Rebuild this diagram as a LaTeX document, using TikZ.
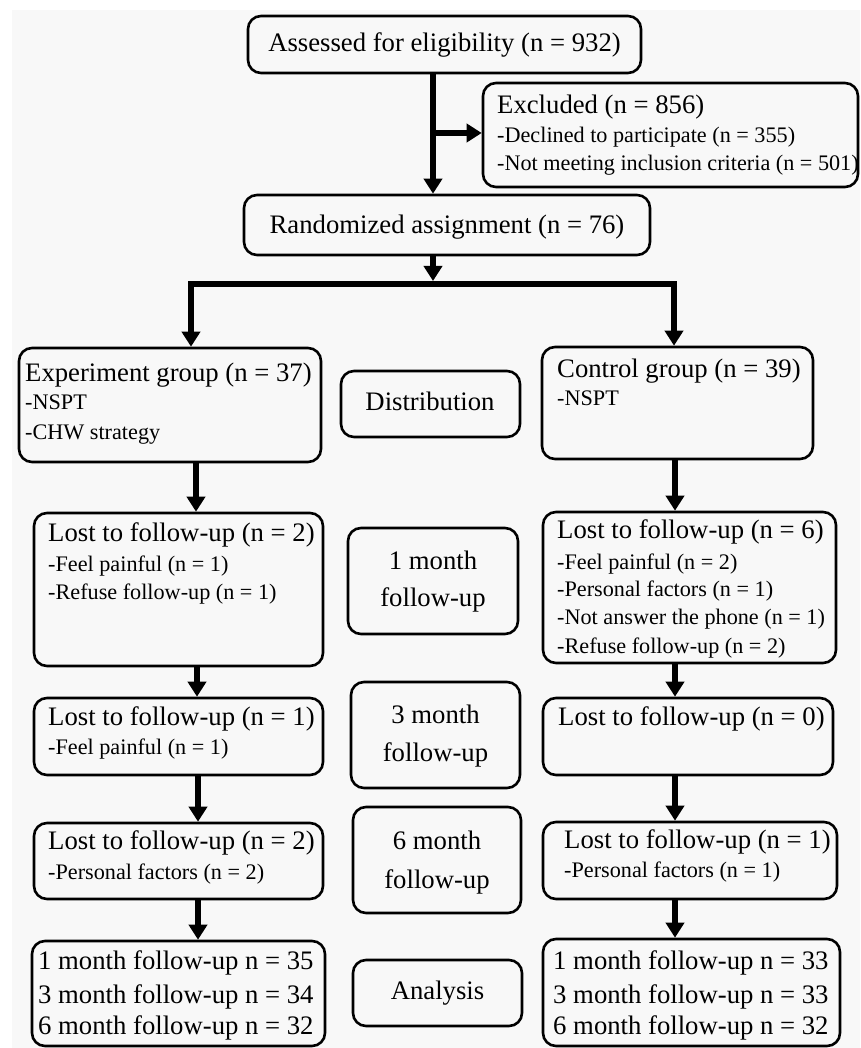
\documentclass[tikz,border=0pt]{standalone}
\usepackage{fontspec}
\setmainfont{Liberation Serif}
\usetikzlibrary{arrows.meta}
\definecolor{bg}{HTML}{F8F8F8}
\newcommand\mf{\fontsize{26.7}{30}\selectfont}
\newcommand\smf{\fontsize{22.2}{25}\selectfont}
\begin{document}
\begin{tikzpicture}[x=1pt,y=-1pt,
  box/.style={draw, line width=2.6pt, rounded corners=13pt, fill=bg, inner sep=0pt},
  tl/.style={inner sep=0pt, anchor=west, text height=0.72em, text depth=0.24em, yshift=-4.5pt},
  tc/.style={inner sep=0pt, anchor=center, text height=0.72em, text depth=0.24em, yshift=-4.5pt},
  arr/.style={line width=5.5pt, -{Triangle[width=18pt,length=15pt]}},
  bar/.style={line width=6pt}]
\useasboundingbox (0,0) rectangle (860,1048);
\fill[white] (0,0) rectangle (860,1048);
\fill[bg] (12,10) rectangle (860,1048);
% boxes
\node[box, minimum width=393pt, minimum height=57pt] (elig) at (444.5,44.5) {};
\node[box, minimum width=375pt, minimum height=104pt] (excl) at (670.5,135) {};
\node[box, minimum width=406pt, minimum height=60pt] (rand) at (447,225) {};
\node[box, minimum width=302pt, minimum height=114pt] (exp) at (170,405) {};
\node[box, minimum width=179pt, minimum height=66pt] (dist) at (430.5,404) {};
\node[box, minimum width=271pt, minimum height=112pt] (ctrl) at (677.5,403) {};
\node[box, minimum width=289pt, minimum height=153pt] (lostA) at (178.5,589.5) {};
\node[box, minimum width=170pt, minimum height=106pt] (mA) at (433,581) {};
\node[box, minimum width=293pt, minimum height=151pt] (lostB) at (689.5,587.5) {};
\node[box, minimum width=289pt, minimum height=77pt] (lostC) at (178.5,736.5) {};
\node[box, minimum width=169pt, minimum height=106pt] (mB) at (435.5,735) {};
\node[box, minimum width=290pt, minimum height=77pt] (lostD) at (688,736.5) {};
\node[box, minimum width=289pt, minimum height=76pt] (lostE) at (178.5,861) {};
\node[box, minimum width=168pt, minimum height=106pt] (mC) at (437,860) {};
\node[box, minimum width=294pt, minimum height=77pt] (lostF) at (690,860.5) {};
\node[box, minimum width=293pt, minimum height=105pt] (finL) at (178.5,993.5) {};
\node[box, minimum width=169pt, minimum height=66pt] (ana) at (437.5,993) {};
\node[box, minimum width=297pt, minimum height=107pt] (finR) at (691.5,992.5) {};
% texts
\node[tc,font=\mf] (t1) at (444.5,45) {Assessed for eligibility (n = 932)};
\node[tl,font=\mf] (t2a) at (497,107) {Excluded (n = 856)};
\node[tl,font=\smf] (t2b) at (497,136) {-Declined to participate (n = 355)};
\node[tl,font=\smf] (t2c) at (497,164) {-Not meeting inclusion criteria (n = 501)};
\node[tc,font=\mf] (t3) at (447,227) {Randomized assignment (n = 76)};
\node[tl,font=\mf] (t4a) at (25,375) {Experiment group (n = 37)};
\node[tl,font=\smf] (t4b) at (25,403) {-NSPT};
\node[tl,font=\smf] (t4c) at (25,433) {-CHW strategy};
\node[tc,font=\mf] (t5) at (430,404) {Distribution};
\node[tl,font=\mf] (t6a) at (557,371) {Control group (n = 39)};
\node[tl,font=\smf] (t6b) at (557,399) {-NSPT};
\node[tl,font=\mf] (t7a) at (48,535) {Lost to follow-up (n = 2)};
\node[tl,font=\smf] (t7b) at (48,565) {-Feel painful (n = 1)};
\node[tl,font=\smf] (t7c) at (48,593) {-Refuse follow-up (n = 1)};
\node[tc,font=\mf] (t8a) at (433,563) {1 month};
\node[tc,font=\mf] (t8b) at (433,600) {follow-up};
\node[tl,font=\mf] (t9a) at (557,532) {Lost to follow-up (n = 6)};
\node[tl,font=\smf] (t9b) at (557,563) {-Feel painful (n = 2)};
\node[tl,font=\smf] (t9c) at (557,590) {-Personal factors (n = 1)};
\node[tl,font=\smf] (t9d) at (557,618) {-Not answer the phone (n = 1)};
\node[tl,font=\smf] (t9e) at (557,647) {-Refuse follow-up (n = 2)};
\node[tl,font=\mf] (t10a) at (48,719) {Lost to follow-up (n = 1)};
\node[tl,font=\smf] (t10b) at (48,748) {-Feel painful (n = 1)};
\node[tc,font=\mf] (t11a) at (435.5,717) {3 month};
\node[tc,font=\mf] (t11b) at (435.5,755) {follow-up};
\node[tl,font=\mf] (t12a) at (558,719) {Lost to follow-up (n = 0)};
\node[tl,font=\mf] (t13a) at (48,843) {Lost to follow-up (n = 2)};
\node[tl,font=\smf] (t13b) at (48,873) {-Personal factors (n = 2)};
\node[tc,font=\mf] (t14a) at (437,843) {6 month};
\node[tc,font=\mf] (t14b) at (437,882) {follow-up};
\node[tl,font=\mf] (t15a) at (564,842) {Lost to follow-up (n = 1)};
\node[tl,font=\smf] (t15b) at (564,871) {-Personal factors (n = 1)};
\node[tl,font=\mf] (t16a) at (38,963) {1 month follow-up n = 35};
\node[tl,font=\mf] (t16b) at (38,997) {3 month follow-up n = 34};
\node[tl,font=\mf] (t16c) at (38,1028) {6 month follow-up n = 32};
\node[tc,font=\mf] (t17) at (437.5,993) {Analysis};
\node[tl,font=\mf] (t18a) at (553,963) {1 month follow-up n = 33};
\node[tl,font=\mf] (t18b) at (553,997) {3 month follow-up n = 33};
\node[tl,font=\mf] (t18c) at (553,1028) {6 month follow-up n = 32};
% connector coordinates
\coordinate (cM) at (433,284);
\coordinate (cL) at (191,284);
\coordinate (cR) at (674,284);
\coordinate (br) at (433,133);
\coordinate (xL1) at (196,0);
\coordinate (xL2) at (197,0);
\coordinate (xL3) at (198,0);
\coordinate (xR) at (675,0);
% connectors
\draw[arr] (elig.south -| cM) -- (rand.north -| cM);
\draw[arr] (br) -- (excl.west |- br);
\draw[arr, shorten >=3pt] (rand.south -| cM) -- (cM);
\draw[bar] (cL) -- (cR);
\draw[arr] ([xshift=-3pt]cL) -- (cL) -- (exp.north -| cL);
\draw[arr] ([xshift=3pt]cR) -- (cR) -- (ctrl.north -| cR);
\draw[arr] (exp.south -| xL1) -- (lostA.north -| xL1);
\draw[arr] (ctrl.south -| xR) -- (lostB.north -| xR);
\draw[arr] (lostA.south -| xL2) -- (lostC.north -| xL2);
\draw[arr] (lostB.south -| xR) -- (lostD.north -| xR);
\draw[arr] (lostC.south -| xL3) -- (lostE.north -| xL3);
\draw[arr] (lostD.south -| xR) -- (lostF.north -| xR);
\draw[arr] (lostE.south -| xL3) -- (finL.north -| xL3);
\draw[arr] (lostF.south -| xR) -- (finR.north -| xR);
\end{tikzpicture}
\end{document}
